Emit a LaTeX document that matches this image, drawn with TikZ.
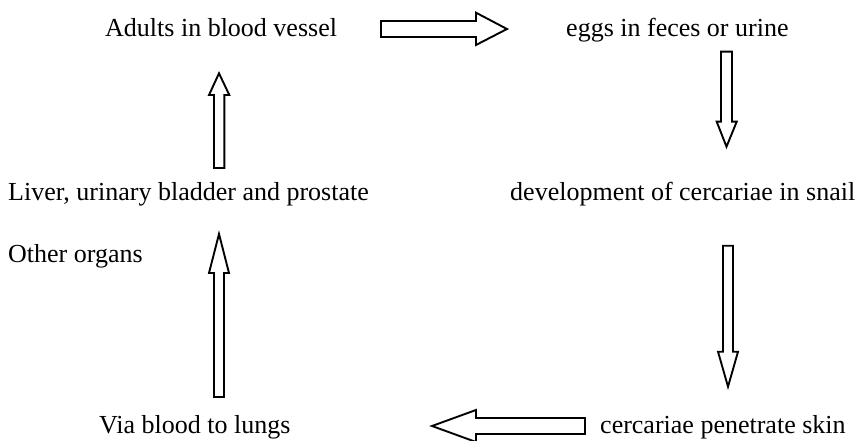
\documentclass[tikz,border=0pt]{standalone}
\usepackage{fontspec}
\setmainfont{Liberation Serif}
\begin{document}
\begin{tikzpicture}[x=1pt,y=-1pt,
  lbl/.style={anchor=base west,inner sep=0pt,font=\fontsize{26}{30}\selectfont},
  blockarrow/.style={draw=black,fill=white,line width=1.9pt,line join=miter}]
\useasboundingbox (0,0) rectangle (864,441);
% texts
\node[lbl] (adults) at (105,37) {Adults in blood vessel};
\node[lbl] (eggs) at (566,37) {eggs in feces or urine};
\node[lbl] (liver) at (8,200) {Liver, urinary bladder and prostate};
\node[lbl] (dev) at (510,200) {development of cercariae in snail};
\node[lbl] (other) at (8,262) {Other organs};
\node[lbl] (via) at (99,433) {Via blood to lungs};
\node[lbl] (cerc) at (600,433) {cercariae penetrate skin};
% block arrows
% right arrow (top)
\draw[blockarrow] (381,21) -- (476,21) -- (476,12.7) -- (507,29) -- (476,45) -- (476,37) -- (381,37) -- cycle;
% down arrow (top right)
\draw[blockarrow] (721,51.7) -- (732,51.7) -- (732,121.7) -- (736.7,121.7) -- (726.5,146.7) -- (716.7,121.7) -- (721,121.7) -- cycle;
% down arrow (bottom right)
\draw[blockarrow] (723,245.7) -- (733,245.7) -- (733,351.7) -- (738,351.7) -- (728,386.7) -- (718,351.7) -- (723,351.7) -- cycle;
% left arrow (bottom)
\draw[blockarrow] (585,418) -- (476,418) -- (476,410) -- (432,426) -- (476,442) -- (476,434) -- (585,434) -- cycle;
% up arrow (bottom left)
\draw[blockarrow] (214,397) -- (224,397) -- (224,273) -- (229,273) -- (219,234) -- (209,273) -- (214,273) -- cycle;
% up arrow (top left)
\draw[blockarrow] (214,168) -- (224.3,168) -- (224.3,95) -- (229.3,95) -- (219,73.3) -- (209,95) -- (214,95) -- cycle;
\end{tikzpicture}
\end{document}
